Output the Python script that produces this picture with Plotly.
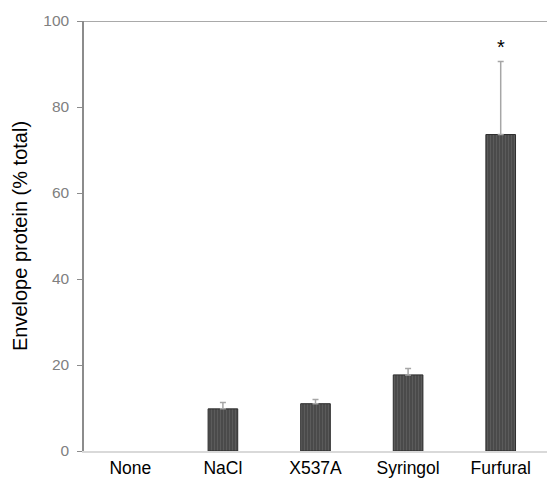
import plotly.graph_objects as go

# Envelope protein fraction per treatment
treatments = ["None", "NaCl", "X537A", "Syringol", "Furfural"]
envelope_pct = [0, 9.8, 11.0, 17.7, 73.6]
error_up = [None, 1.5, 1.0, 1.5, 17.0]
significance = ["", "", "", "", "*"]

fig = go.Figure()

fig.add_trace(go.Bar(
    x=treatments,
    y=envelope_pct,
    marker=dict(
        color="#4a4a4a",
        opacity=[0 if v == 0 else 1 for v in envelope_pct],
        line=dict(color="#2e2e2e", width=1),
        pattern=dict(shape="|", fgcolor="#6e6e6e", size=3, solidity=0.3),
    ),
    showlegend=False,
))

# upper error bars only where a deviation was measured
err_idx = [i for i, e in enumerate(error_up) if e is not None]
fig.add_trace(go.Scatter(
    x=[treatments[i] for i in err_idx],
    y=[envelope_pct[i] for i in err_idx],
    mode="markers",
    marker=dict(size=1, opacity=0),
    error_y=dict(type="data", symmetric=False,
                 array=[error_up[i] for i in err_idx],
                 arrayminus=[0] * len(err_idx),
                 color="#a6a6a6", thickness=1.5, width=3),
    showlegend=False, hoverinfo="skip",
))

# significance marks above the error bars
for t, v, e, s in zip(treatments, envelope_pct, error_up, significance):
    if s:
        fig.add_annotation(x=t, y=v + (e or 0), text=s, showarrow=False,
                           yanchor="bottom", yshift=1,
                           font=dict(size=20, color="black"))

# top frame line at 100
fig.add_shape(type="line", xref="paper", yref="y", x0=0, x1=1, y0=100, y1=100,
              line=dict(color="#8c8c8c", width=1.5))

fig.update_layout(
    width=547, height=478,
    margin=dict(l=84, r=0, t=21, b=25),
    plot_bgcolor="white", paper_bgcolor="white",
    bargap=0.68,
    font=dict(family="Liberation Sans, Arial, sans-serif"),
    xaxis=dict(showline=True, linecolor="#d9d9d9", linewidth=1.5,
               ticks="", showgrid=False,
               tickfont=dict(size=17.5, color="black")),
    yaxis=dict(range=[0, 100], tickvals=[0, 20, 40, 60, 80, 100],
               showline=True, linecolor="#8c8c8c", linewidth=1.5,
               ticks="outside", ticklen=5, tickcolor="#8c8c8c",
               ticklabelstandoff=5,
               showgrid=False, zeroline=False,
               tickfont=dict(size=15.5, color="#808080"),
               title=dict(text="Envelope protein (% total)",
                          font=dict(size=20, color="black"), standoff=10)),
)

fig.write_html("out.html")
